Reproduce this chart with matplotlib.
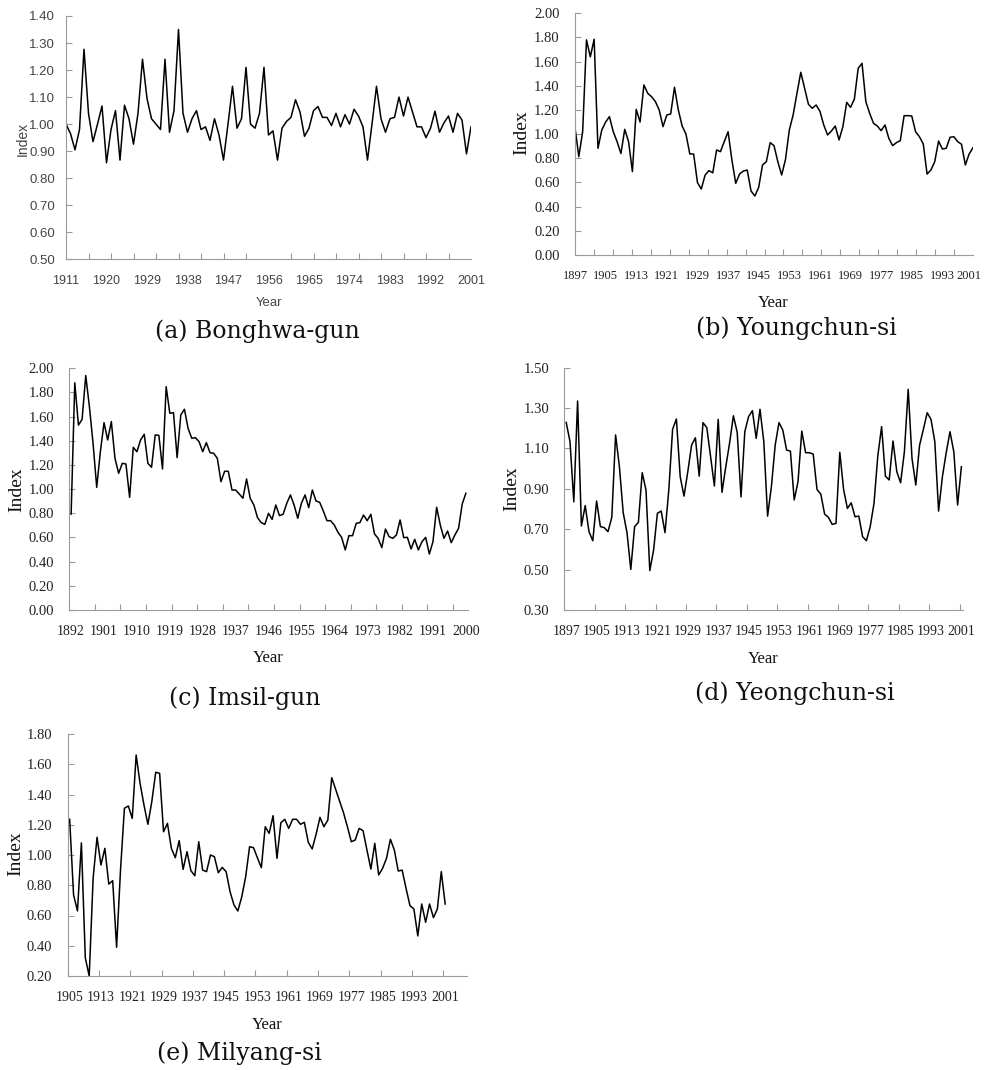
import numpy as np
import matplotlib
matplotlib.use("Agg")
import matplotlib.pyplot as plt
import matplotlib.transforms as mtransforms

# ---- data ----
bonghwa_years = np.arange(1911, 2002)
bonghwa = [1.00, 0.965, 0.905, 0.98, 1.277, 1.04, 0.935, 1.00, 1.067, 0.857,
           0.98, 1.05, 0.867, 1.07, 1.02, 0.926, 1.04, 1.24, 1.095, 1.02,
           1.00, 0.98, 1.24, 0.97, 1.05, 1.35, 1.04, 0.97, 1.02, 1.05,
           0.98, 0.99, 0.94, 1.02, 0.96, 0.867, 1.00, 1.14, 0.985, 1.02,
           1.21, 1.00, 0.985, 1.04, 1.21, 0.96, 0.975, 0.867, 0.985, 1.01,
           1.025, 1.09, 1.045, 0.955, 0.985, 1.05, 1.065, 1.025, 1.025, 0.995,
           1.04, 0.99, 1.035, 1.00, 1.055, 1.03, 0.99, 0.867, 1.00, 1.14,
           1.02, 0.97, 1.02, 1.025, 1.10, 1.03, 1.10, 1.045, 0.99, 0.99,
           0.95, 0.985, 1.048, 0.97, 1.005, 1.03, 0.97, 1.04, 1.015, 0.89,
           0.99]

youngchun_years = np.arange(1897, 2002)
youngchun = [1.054, 0.814, 1.02, 1.78, 1.64, 1.785, 0.883, 1.034, 1.10, 1.145,
             1.02, 0.938, 0.84, 1.04, 0.938, 0.69, 1.205, 1.10, 1.407, 1.338,
             1.31, 1.27, 1.20, 1.062, 1.159, 1.167, 1.388, 1.20, 1.067, 1.00,
             0.836, 0.836, 0.599, 0.546, 0.662, 0.698, 0.68, 0.869, 0.855, 0.938,
             1.02, 0.786, 0.593, 0.67, 0.695, 0.703, 0.53, 0.488, 0.56, 0.745,
             0.772, 0.93, 0.905, 0.772, 0.662, 0.79, 1.034, 1.159, 1.338, 1.512,
             1.379, 1.247, 1.214, 1.241, 1.19, 1.076, 0.993, 1.026, 1.067, 0.952,
             1.062, 1.263, 1.222, 1.29, 1.545, 1.586, 1.269, 1.172, 1.09, 1.067,
             1.029, 1.076, 0.966, 0.905, 0.93, 0.946, 1.153, 1.153, 1.15, 1.02,
             0.979, 0.919, 0.67, 0.703, 0.772, 0.943, 0.877, 0.883, 0.974, 0.979,
             0.938, 0.916, 0.745, 0.836, 0.888]

imsil_years = np.arange(1892, 2001)
imsil = [0.794, 1.88, 1.53, 1.578, 1.94, 1.683, 1.379, 1.015, 1.31, 1.55,
         1.407, 1.559, 1.255, 1.131, 1.214, 1.208, 0.932, 1.346, 1.31, 1.407,
         1.454, 1.214, 1.181, 1.448, 1.446, 1.167, 1.848, 1.628, 1.633, 1.261,
         1.614, 1.661, 1.503, 1.421, 1.426, 1.393, 1.31, 1.385, 1.302, 1.297,
         1.255, 1.062, 1.148, 1.148, 0.993, 0.993, 0.96, 0.925, 1.084,
         0.924, 0.869, 0.764, 0.723, 0.709, 0.80, 0.75, 0.869, 0.781, 0.792,
         0.883, 0.952, 0.869, 0.759, 0.883, 0.952, 0.847, 0.993, 0.902, 0.891,
         0.819, 0.739, 0.739, 0.703, 0.643, 0.601, 0.497, 0.615, 0.615, 0.717,
         0.723, 0.786, 0.739, 0.792, 0.629, 0.593, 0.516, 0.67, 0.607, 0.593,
         0.621, 0.745, 0.599, 0.601, 0.505, 0.585, 0.497, 0.566, 0.601, 0.463,
         0.566, 0.85, 0.703, 0.593, 0.654, 0.557, 0.621, 0.676, 0.877, 0.966]

yeongchun_years = np.arange(1897, 2002)
yeongchun = [1.229, 1.134, 0.836, 1.335, 0.716, 0.817, 0.688, 0.643, 0.84, 0.713,
             0.708, 0.688, 0.759, 1.167, 1.01, 0.782, 0.683, 0.501, 0.713, 0.734,
             0.98, 0.894, 0.495, 0.597, 0.779, 0.79, 0.683, 0.894, 1.195, 1.246,
             0.96, 0.864, 0.985, 1.117, 1.153, 0.963, 1.228, 1.203, 1.059, 0.914,
             1.244, 0.883, 1.01, 1.127, 1.262, 1.18, 0.86, 1.183, 1.258, 1.287,
             1.15, 1.294, 1.134, 0.765, 0.911, 1.117, 1.228, 1.191, 1.092, 1.087,
             0.845, 0.935, 1.186, 1.079, 1.079, 1.072, 0.897, 0.874, 0.775, 0.759,
             0.724, 0.729, 1.081, 0.897, 0.803, 0.831, 0.762, 0.765, 0.663, 0.643,
             0.713, 0.828, 1.063, 1.208, 0.963, 0.944, 1.137, 0.985, 0.93, 1.084,
             1.393, 1.051, 0.919, 1.117, 1.195, 1.277, 1.244, 1.134, 0.79, 0.96,
             1.079, 1.183, 1.084, 0.82, 1.01]

milyang_years = np.arange(1905, 2002)
milyang = [1.236, 0.736, 0.63, 1.08, 0.32, 0.20, 0.846, 1.117, 0.934, 1.044,
           0.808, 0.83, 0.39, 0.90, 1.309, 1.324, 1.242, 1.661, 1.474, 1.33,
           1.203, 1.353, 1.547, 1.54, 1.154, 1.209, 1.044, 0.982, 1.095, 0.905,
           1.022, 0.896, 0.863, 1.088, 0.90, 0.89, 1.00, 0.989, 0.883, 0.918,
           0.89, 0.758, 0.67, 0.63, 0.724, 0.857, 1.055, 1.048, 0.982, 0.916,
           1.187, 1.143, 1.26, 0.978, 1.214, 1.236, 1.176, 1.236, 1.236, 1.203,
           1.216, 1.084, 1.04, 1.137, 1.249, 1.187, 1.231, 1.511, 1.434, 1.357,
           1.28, 1.187, 1.088, 1.099, 1.176, 1.161, 1.033, 0.907, 1.077, 0.868,
           0.912, 0.978, 1.104, 1.033, 0.894, 0.90, 0.779, 0.665, 0.643, 0.465,
           0.676, 0.555, 0.676, 0.586, 0.643, 0.89, 0.676]

W, H = 984, 1070
fig = plt.figure(figsize=(W / 100, H / 100), dpi=100)

SERIF = ['Liberation Serif', 'DejaVu Serif']
SANS = ['Liberation Sans', 'DejaVu Sans']
CAP = ['DejaVu Serif']
GREY = '#9a9a9a'


def box(l, t, r, b):
    # pixel box -> figure fraction
    return [l / W, 1 - b / H, (r - l) / W, (b - t) / H]


def panel(rect, years, vals, xlim, ylim, ystep, labels, minor, fam,
          ysize, xsize, ypad, tcol='#222222'):
    ax = fig.add_axes(box(*rect))
    ax.plot(years, vals, color='black', lw=1.1)
    ax.set_xlim(*xlim)
    ax.set_ylim(*ylim)
    for s in ['top', 'right']:
        ax.spines[s].set_visible(False)
    for s in ['left', 'bottom']:
        ax.spines[s].set_color(GREY)
        ax.spines[s].set_linewidth(0.8)
    ax.set_yticks(np.round(np.arange(ylim[0], ylim[1] + 1e-9, ystep), 2))
    ax.yaxis.set_major_formatter(matplotlib.ticker.FormatStrFormatter('%.2f'))
    ax.set_xticks(labels)
    ax.set_xticklabels([str(v) for v in labels])
    ax.set_xticks(minor, minor=True)
    ax.tick_params(axis='x', which='major', length=0, pad=11,
                   labelsize=xsize, labelcolor=tcol)
    ax.tick_params(axis='x', which='minor', length=4, direction='in',
                   color=GREY, width=0.8)
    ax.tick_params(axis='y', length=4, direction='in', color=GREY, width=0.8,
                   pad=ypad, labelsize=ysize, labelcolor=tcol)
    for t in ax.get_xticklabels() + ax.get_yticklabels():
        t.set_family(fam)
    return ax


def ftext(x, y, s, fam, size, rot=0, col='#111111'):
    fig.text(x / W, 1 - y / H, s, family=fam, fontsize=size, rotation=rot,
             ha='center', va='center', color=col)


# (a) Bonghwa-gun
panel((66, 16, 471, 259.3), bonghwa_years, bonghwa, (1911, 2001), (0.5, 1.4), 0.1,
      list(range(1911, 2002, 9)), np.arange(1911, 2002, 5), SANS, 9.5, 9, 8,
      tcol='#444444')
ftext(23, 139, 'Index', SANS, 10, 90, col='#444444')
ftext(269, 303, 'Year', SANS, 9.5, col='#444444')
ftext(257, 331, '(a) Bonghwa-gun', CAP, 17)

# (b) Youngchun-si
axb = panel((575, 13.3, 973, 255), youngchun_years, youngchun, (1897, 2001), (0, 2), 0.2,
            list(range(1897, 2002, 8)), np.linspace(1897, 2001, 22), SERIF, 10.5, 9, 11)
last = axb.xaxis.get_major_ticks()[-1].label1
last.set_transform(last.get_transform() +
                   mtransforms.ScaledTranslation(-4 / 100, 0, fig.dpi_scale_trans))
ftext(521.5, 133, 'Index', SERIF, 14, 90)
ftext(773, 303, 'Year', SERIF, 12)
ftext(796, 328, '(b) Youngchun-si', CAP, 17)

# (c) Imsil-gun
panel((69.3, 368.3, 467.7, 610), imsil_years, imsil, (1891.5, 2000.5), (0, 2), 0.2,
      list(range(1892, 2001, 9)), np.arange(1891.5, 2000, 7), SERIF, 10.5, 10, 11)
ftext(17, 490, 'Index', SERIF, 14, 90)
ftext(268, 658, 'Year', SERIF, 12)
ftext(245, 698, '(c) Imsil-gun', CAP, 17)

# (d) Yeongchun-si
panel((564.3, 367.7, 963.3, 610), yeongchun_years, yeongchun, (1896.5, 2001.5), (0.3, 1.5), 0.2,
      list(range(1897, 2002, 8)), np.arange(1896.5, 2001, 8), SERIF, 10.5, 10, 11)
ftext(512, 489, 'Index', SERIF, 14, 90)
ftext(763, 659, 'Year', SERIF, 12)
ftext(795, 693, '(d) Yeongchun-si', CAP, 17)

# (e) Milyang-si
panel((67.7, 734, 466.7, 976), milyang_years, milyang, (1904.5, 2006.5), (0.2, 1.8), 0.2,
      list(range(1905, 2002, 8)), np.arange(1904.5, 2001, 8), SERIF, 10.5, 10, 11)
ftext(15.5, 854, 'Index', SERIF, 14, 90)
ftext(267, 1025, 'Year', SERIF, 12)
ftext(239, 1053, '(e) Milyang-si', CAP, 17)

fig.savefig('out.png', dpi=100, facecolor='white')
